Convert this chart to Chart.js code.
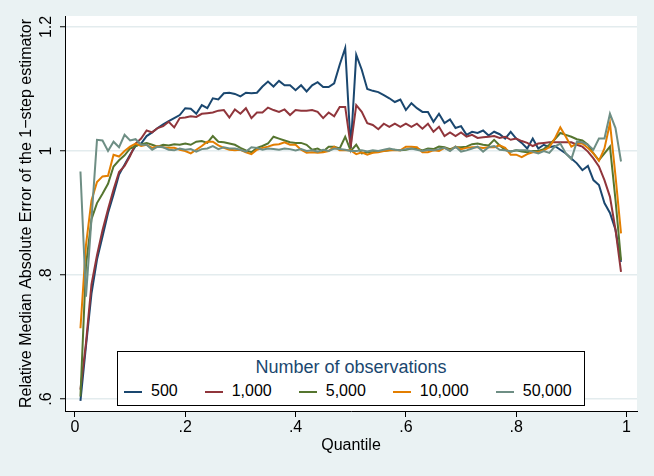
<!DOCTYPE html>
<html>
<head>
<meta charset="utf-8">
<script src="https://cdn.jsdelivr.net/npm/chart.js@4/dist/chart.umd.min.js"></script>
<style>
  body { margin: 0; background: #eaf2f3; }
  #wrap { position: relative; width: 654px; height: 476px; font-family: "Liberation Sans", Arial, sans-serif; }
  #legendBox {
    position: absolute; left: 117px; top: 351px; width: 468px; height: 55px;
    box-sizing: border-box; border: 1px solid #000; background: #fff;
  }
  #legendTitle { margin-top: 4px; height: 22px; line-height: 22px; text-align: center; font-size: 18px; color: #1a476f; }
  #legendItems { display: flex; margin-top: 3px; padding-left: 6px; height: 20px; line-height: 20px; font-size: 16px; color: #000; }
  .legendItem { margin-right: 27px; white-space: nowrap; }
  .legendKey { display: inline-block; width: 18px; height: 2px; margin-right: 9px; vertical-align: middle; }
</style>
</head>
<body>
<div id="wrap">
  <canvas id="mabeChart" width="654" height="476"></canvas>
  <div id="legendBox">
    <div id="legendTitle">Number of observations</div>
    <div id="legendItems"></div>
  </div>
</div>
<script>
// Quantiles on the x axis
const quantiles = [
  0.01, 0.02, 0.03, 0.04, 0.05, 0.06, 0.07, 0.08, 0.09, 0.10,
  0.11, 0.12, 0.13, 0.14, 0.15, 0.16, 0.17, 0.18, 0.19, 0.20,
  0.21, 0.22, 0.23, 0.24, 0.25, 0.26, 0.27, 0.28, 0.29, 0.30,
  0.31, 0.32, 0.33, 0.34, 0.35, 0.36, 0.37, 0.38, 0.39, 0.40,
  0.41, 0.42, 0.43, 0.44, 0.45, 0.46, 0.47, 0.48, 0.49, 0.50,
  0.51, 0.52, 0.53, 0.54, 0.55, 0.56, 0.57, 0.58, 0.59, 0.60,
  0.61, 0.62, 0.63, 0.64, 0.65, 0.66, 0.67, 0.68, 0.69, 0.70,
  0.71, 0.72, 0.73, 0.74, 0.75, 0.76, 0.77, 0.78, 0.79, 0.80,
  0.81, 0.82, 0.83, 0.84, 0.85, 0.86, 0.87, 0.88, 0.89, 0.90,
  0.91, 0.92, 0.93, 0.94, 0.95, 0.96, 0.97, 0.98, 0.99
];

// Relative MAE per sample size
const obs500 = [
  0.597, 0.685, 0.770, 0.825, 0.862, 0.900, 0.930, 0.962, 0.978, 0.994,
  1.008, 1.012, 1.024, 1.030, 1.037, 1.043, 1.048, 1.053, 1.058, 1.069,
  1.068, 1.060, 1.074, 1.069, 1.085, 1.083, 1.093, 1.094, 1.092, 1.088,
  1.094, 1.093, 1.094, 1.104, 1.112, 1.104, 1.113, 1.106, 1.106, 1.098,
  1.106, 1.096, 1.106, 1.111, 1.103, 1.103, 1.109, 1.139, 1.166, 1.005,
  1.155, 1.131, 1.100, 1.097, 1.095, 1.090, 1.085, 1.079, 1.083, 1.066,
  1.077, 1.069, 1.063, 1.063, 1.047, 1.060, 1.045, 1.051, 1.037, 1.040,
  1.026, 1.031, 1.029, 1.033, 1.025, 1.031, 1.027, 1.020, 1.031, 1.020,
  1.013, 1.004, 1.020, 1.004, 1.010, 1.006, 1.008, 1.002, 0.996, 0.988,
  0.980, 0.969, 0.976, 0.953, 0.945, 0.916, 0.900, 0.873, 0.821
];
const obs1000 = [
  0.615, 0.690, 0.785, 0.832, 0.872, 0.906, 0.938, 0.966, 0.976, 0.992,
  1.012, 1.020, 1.033, 1.030, 1.037, 1.040, 1.047, 1.038, 1.053, 1.054,
  1.056, 1.055, 1.060, 1.061, 1.062, 1.065, 1.066, 1.054, 1.067, 1.060,
  1.069, 1.053, 1.062, 1.062, 1.070, 1.066, 1.063, 1.067, 1.058, 1.066,
  1.065, 1.065, 1.066, 1.063, 1.053, 1.062, 1.056, 1.071, 1.071, 1.007,
  1.074, 1.063, 1.045, 1.042, 1.035, 1.044, 1.039, 1.044, 1.039, 1.044,
  1.039, 1.044, 1.036, 1.044, 1.031, 1.039, 1.024, 1.030, 1.024, 1.030,
  1.023, 1.026, 1.021, 1.022, 1.023, 1.024, 1.021, 1.023, 1.018, 1.020,
  1.016, 1.013, 1.008, 1.012, 1.013, 1.014, 1.014, 1.014, 1.014, 1.014,
  1.010, 1.007, 0.999, 0.988, 0.975, 0.953, 0.926, 0.873, 0.805
];
const obs5000 = [
  0.604, 0.815, 0.890, 0.916, 0.931, 0.947, 0.975, 0.985, 0.993, 1.004,
  1.008, 1.011, 1.013, 1.010, 1.007, 1.010, 1.009, 1.011, 1.010, 1.012,
  1.010, 1.015, 1.016, 1.013, 1.024, 1.015, 1.014, 1.012, 1.010, 1.005,
  1.001, 0.998, 1.005, 1.008, 1.012, 1.023, 1.020, 1.017, 1.014, 1.013,
  1.013, 1.010, 1.002, 1.004, 0.999, 1.007, 1.007, 1.004, 1.023, 1.000,
  1.010, 0.996, 0.998, 0.998, 1.000, 1.000, 1.001, 1.002, 1.001, 1.002,
  1.004, 1.004, 1.001, 1.004, 1.003, 1.007, 1.006, 1.003, 1.006, 1.006,
  1.007, 1.011, 1.012, 1.010, 1.009, 1.018, 1.009, 1.002, 0.999, 1.001,
  0.999, 0.998, 1.000, 1.000, 1.003, 1.010, 1.019, 1.029, 1.026, 1.023,
  1.019, 1.017, 1.010, 0.996, 0.985, 0.996, 1.007, 0.921, 0.824
];
const obs10000 = [
  0.714, 0.848, 0.920, 0.950, 0.959, 0.960, 0.994, 0.991, 1.000, 1.007,
  1.012, 1.008, 1.010, 1.005, 1.008, 1.006, 1.005, 1.005, 1.002, 1.000,
  0.996, 1.002, 1.008, 1.015, 1.015, 1.009, 1.005, 1.002, 1.001, 1.002,
  0.998, 0.995, 1.002, 1.005, 1.007, 1.010, 1.011, 1.014, 1.010, 1.010,
  1.002, 0.997, 0.998, 0.997, 0.998, 1.000, 1.007, 1.001, 1.001, 1.001,
  0.995, 0.998, 0.994, 0.997, 0.998, 1.000, 1.001, 1.001, 1.001, 1.007,
  1.007, 1.006, 0.998, 0.998, 1.001, 1.000, 1.005, 1.001, 1.007, 1.003,
  1.005, 1.006, 1.006, 1.005, 1.006, 1.006, 1.009, 1.005, 0.994, 0.994,
  0.990, 0.995, 0.998, 0.998, 1.001, 1.006, 1.020, 1.038, 1.023, 1.007,
  1.012, 1.012, 1.005, 0.996, 0.984, 1.004, 1.045, 0.960, 0.867
];
const obs50000 = [
  0.967, 0.765, 0.890, 1.018, 1.017, 1.000, 1.015, 1.006, 1.026, 1.017,
  1.019, 1.010, 1.010, 1.002, 1.007, 1.006, 1.002, 1.001, 1.004, 1.002,
  1.003, 0.999, 1.003, 1.004, 1.008, 1.003, 1.006, 1.004, 1.004, 1.002,
  0.999, 1.006, 1.005, 1.002, 1.004, 1.003, 1.002, 1.004, 1.003, 1.001,
  1.003, 1.000, 1.001, 0.999, 1.002, 1.000, 1.004, 1.003, 1.002, 1.000,
  1.000, 1.001, 0.999, 1.001, 1.000, 1.002, 1.004, 1.002, 1.001, 1.003,
  1.004, 1.002, 1.000, 1.002, 1.001, 1.003, 1.005, 1.000, 1.007, 0.999,
  1.001, 1.004, 1.007, 0.999, 1.006, 1.008, 1.002, 1.001, 0.999, 1.001,
  1.001, 1.001, 0.999, 0.996, 1.000, 0.997, 1.007, 1.012, 0.996, 0.987,
  1.015, 1.014, 1.010, 1.002, 1.020, 1.020, 1.060, 1.037, 0.983
];

const seriesNames = ['500', '1,000', '5,000', '10,000', '50,000'];
const seriesValues = [obs500, obs1000, obs5000, obs10000, obs50000];
const seriesColors = ['#1a476f', '#90353b', '#55752f', '#e37e00', '#6e8e84'];

// Tick positions and their labels
const xTickValues = [0, 0.2, 0.4, 0.6, 0.8, 1];
const xTickLabels = ['0', '.2', '.4', '.6', '.8', '1'];
const yTickValues = [0.6, 0.8, 1, 1.2];
const yTickLabels = ['.6', '.8', '1', '1.2'];

const fontFamily = '"Liberation Sans", Arial, sans-serif';
Chart.defaults.font.family = fontFamily;
Chart.defaults.color = '#000';

// Paints the outer background and the white plot region
const backgroundPlugin = {
    id: 'stataBackground',
    beforeDraw(chart) {
        const { ctx, chartArea } = chart;
        ctx.save();
        ctx.fillStyle = '#eaf2f3';
        ctx.fillRect(0, 0, chart.width, chart.height);
        ctx.fillStyle = '#ffffff';
        ctx.fillRect(chartArea.left, chartArea.top, chartArea.right - chartArea.left, chartArea.bottom - chartArea.top);
        ctx.restore();
    }
};

// Y tick labels are drawn rotated, as Stata does
const rotatedYLabels = {
    id: 'rotatedYLabels',
    afterDraw(chart) {
        const { ctx } = chart;
        const yScale = chart.scales.y;
        ctx.save();
        ctx.font = '16px ' + fontFamily;
        ctx.fillStyle = '#000';
        ctx.textAlign = 'center';
        ctx.textBaseline = 'middle';
        yTickValues.forEach((v, i) => {
            ctx.save();
            ctx.translate(47, yScale.getPixelForValue(v));
            ctx.rotate(-Math.PI / 2);
            ctx.fillText(yTickLabels[i], 0, 0);
            ctx.restore();
        });
        ctx.restore();
    }
};

const datasets = seriesValues.map((values, i) => ({
    label: seriesNames[i],
    data: values.map((v, j) => ({ x: quantiles[j], y: v })),
    borderColor: seriesColors[i],
    backgroundColor: seriesColors[i],
    borderWidth: 2,
    pointRadius: 0,
    tension: 0,
    order: seriesValues.length - i
}));

new Chart(document.getElementById('mabeChart').getContext('2d'), {
    type: 'line',
    data: { datasets: datasets },
    plugins: [backgroundPlugin, rotatedYLabels],
    options: {
        responsive: false,
        animation: false,
        layout: { padding: { left: 0, right: 17, top: 16, bottom: 0 } },
        scales: {
            x: {
                type: 'linear',
                min: -0.018,
                max: 1.019,
                afterBuildTicks: (scale) => { scale.ticks = xTickValues.map(v => ({ value: v })); },
                afterFit: (scale) => { scale.height = 65; },
                ticks: {
                    font: { size: 16 },
                    padding: 0.5,
                    maxRotation: 0,
                    callback: (value) => xTickLabels[xTickValues.indexOf(value)]
                },
                grid: { drawOnChartArea: false, drawTicks: true, tickLength: 6, tickColor: '#000', tickWidth: 1 },
                border: { display: true, color: '#000', width: 1 },
                title: { display: true, text: 'Quantile', font: { size: 16 }, padding: { top: 0, bottom: 21 } }
            },
            y: {
                type: 'linear',
                min: 0.5806,
                max: 1.2177,
                afterBuildTicks: (scale) => { scale.ticks = yTickValues.map(v => ({ value: v })); },
                afterFit: (scale) => { scale.width = 65; },
                ticks: { display: false },
                grid: { color: '#e3ecee', lineWidth: 1.5, drawTicks: true, tickLength: 5, tickColor: '#000', tickWidth: 1 },
                border: { display: true, color: '#000', width: 1 },
                title: {
                    display: true,
                    text: 'Relative Median Absolute Error of the 1\u2212step estimator',
                    font: { size: 16 },
                    padding: { top: 17, bottom: 0 }
                }
            }
        },
        plugins: {
            legend: { display: false },
            tooltip: { enabled: false }
        }
    }
});

// Legend built from the same series names and colours
const legendItems = document.getElementById('legendItems');
seriesNames.forEach((name, i) => {
    const item = document.createElement('span');
    item.className = 'legendItem';
    const key = document.createElement('span');
    key.className = 'legendKey';
    key.style.background = seriesColors[i];
    item.appendChild(key);
    item.appendChild(document.createTextNode(name));
    legendItems.appendChild(item);
});
</script>
</body>
</html>
